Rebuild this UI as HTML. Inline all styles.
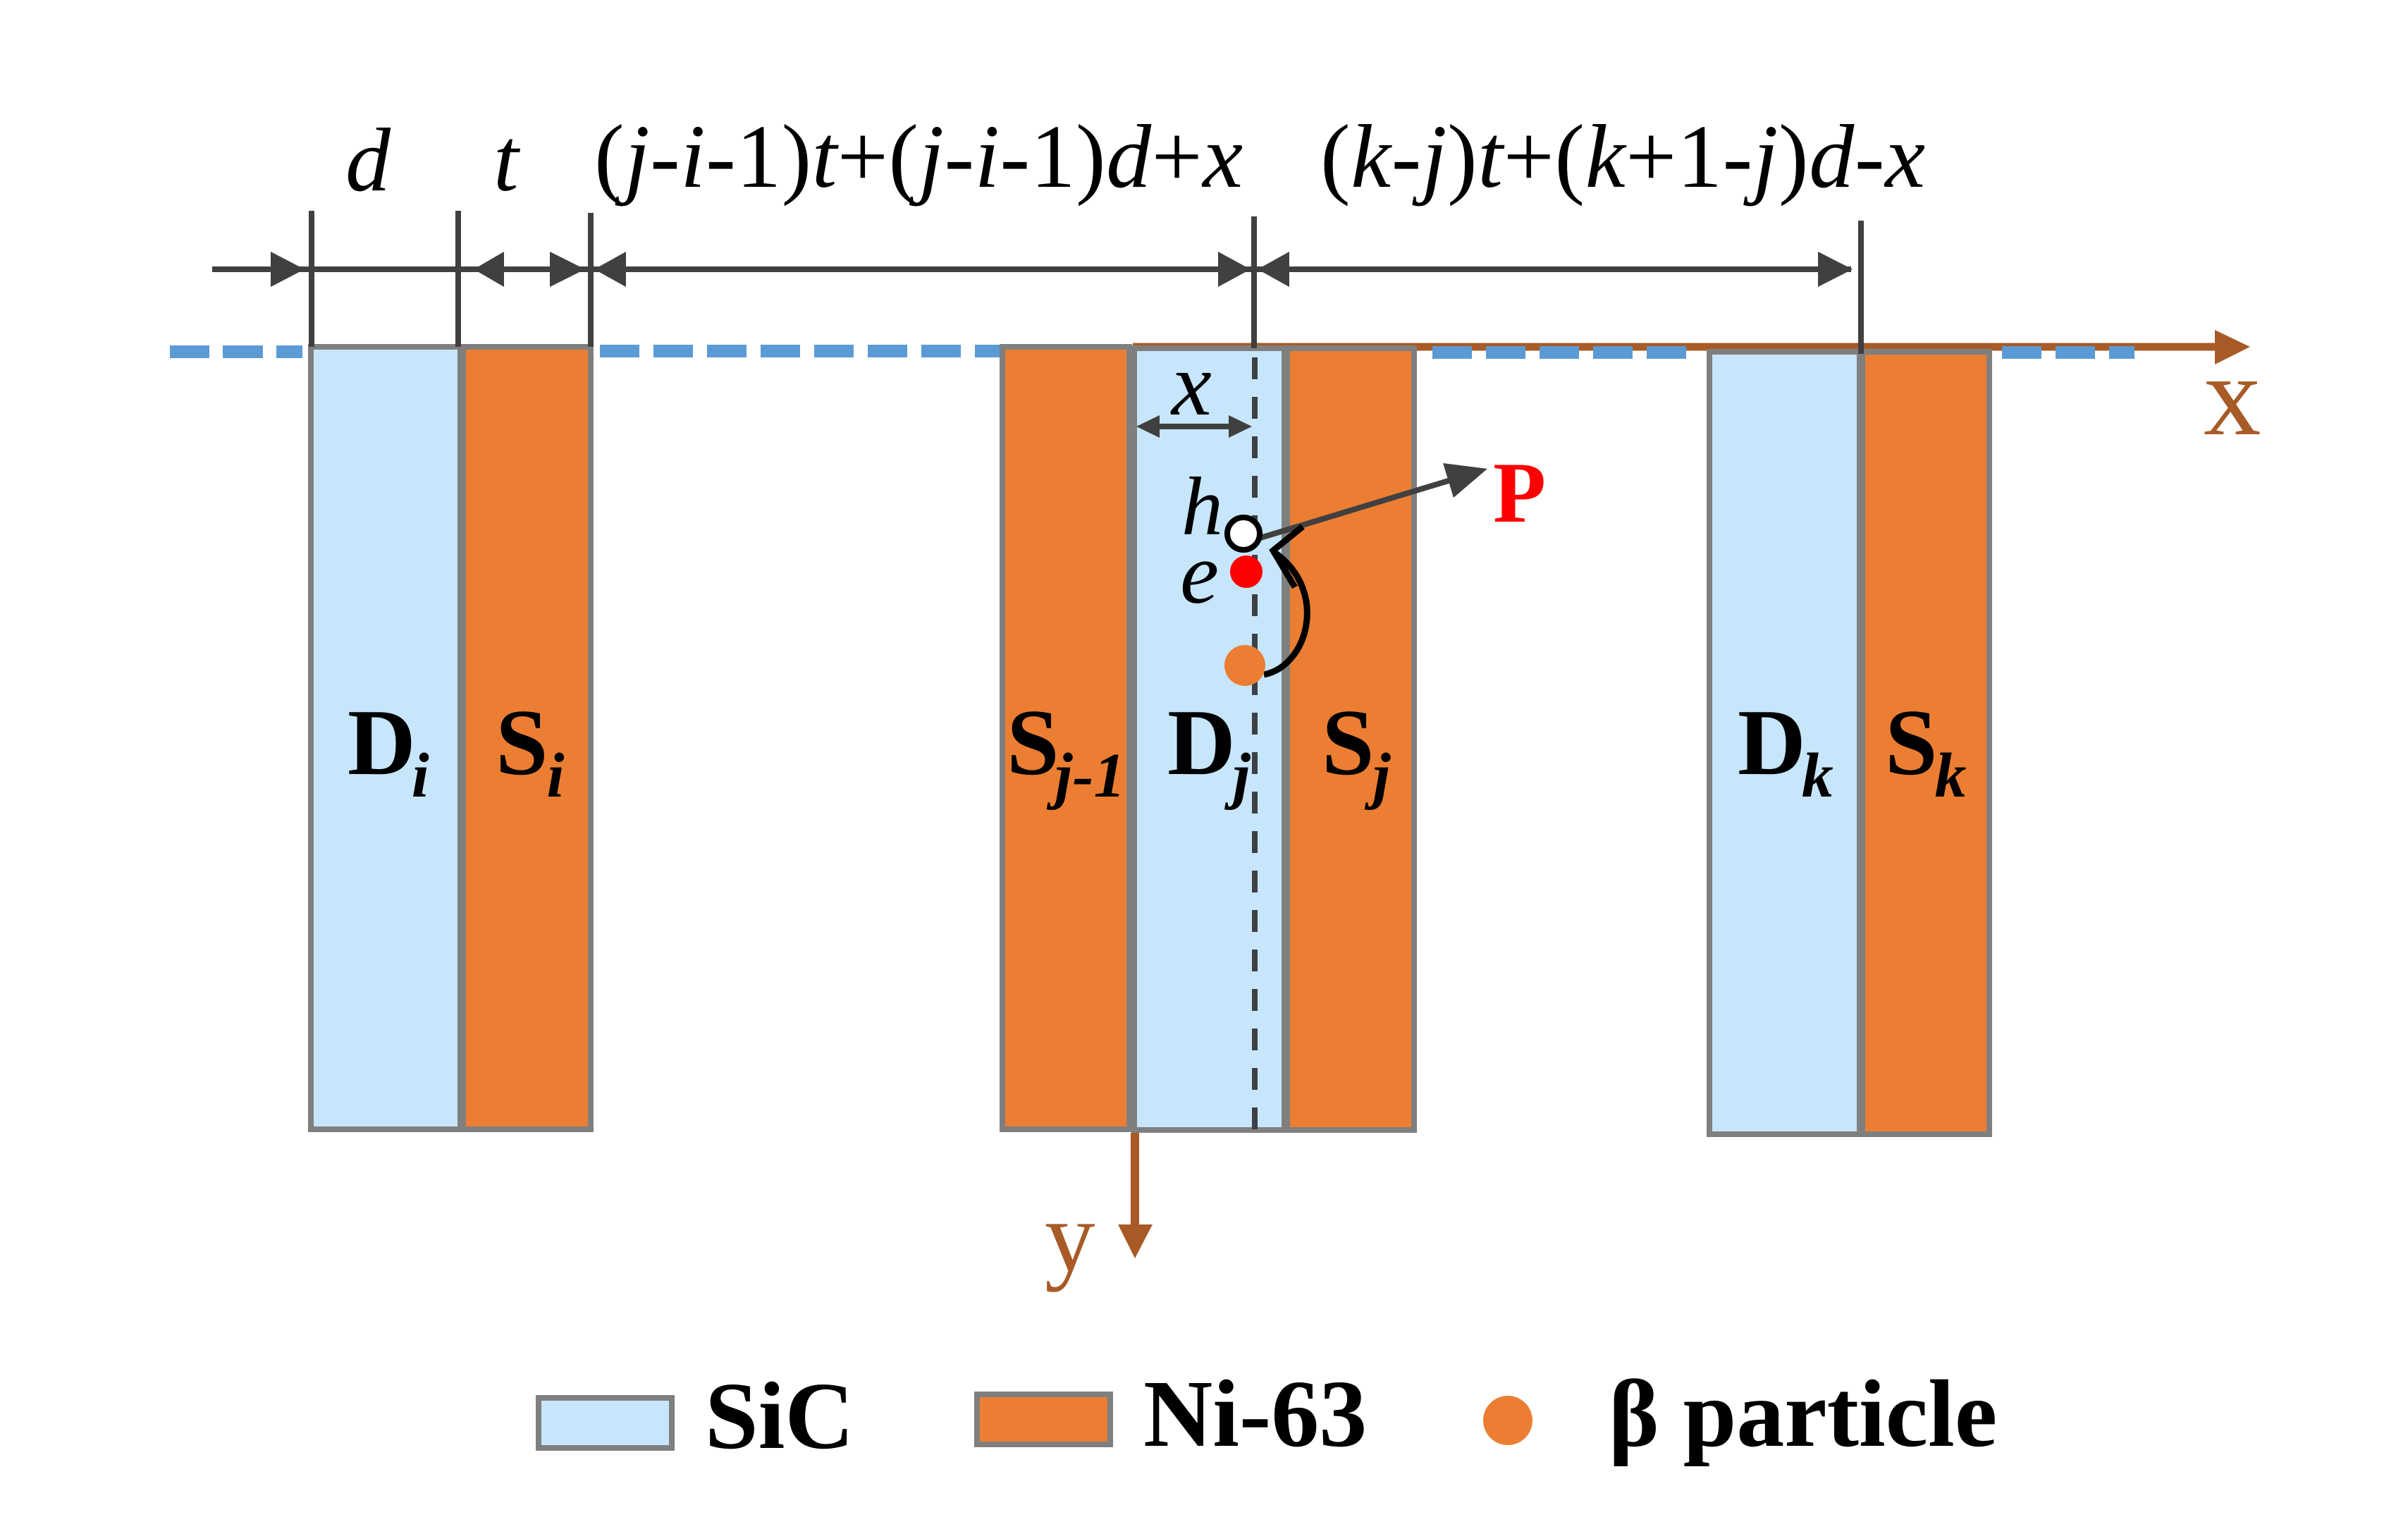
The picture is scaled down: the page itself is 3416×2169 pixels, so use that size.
<!DOCTYPE html>
<html>
<head>
<meta charset="utf-8">
<style>
  html, body { margin:0; padding:0; background:#ffffff; }
  body { width:3416px; height:2169px; overflow:hidden; }
  svg { display:block; }
  text { font-family: "Liberation Serif", "DejaVu Serif", serif; }
</style>
</head>
<body>
<svg width="3416" height="2169" viewBox="0 0 3416 2169" xmlns="http://www.w3.org/2000/svg">
  <rect x="0" y="0" width="3416" height="2169" fill="#ffffff"/>

  <!-- brown x axis -->
  <line x1="1607" y1="492" x2="3146" y2="492" stroke="#A85B26" stroke-width="11"/>
  <polygon points="3142,468 3192,492 3142,517" fill="#A85B26"/>

  <!-- blue dashed baseline -->
  <g fill="#5B9BD5">
    <rect x="241" y="490" width="56" height="18"/>
    <rect x="316" y="490" width="57" height="18"/>
    <rect x="392" y="490" width="37" height="18"/>

    <rect x="851" y="489" width="56" height="18"/>
    <rect x="927" y="489" width="56" height="18"/>
    <rect x="1003" y="489" width="56" height="18"/>
    <rect x="1079" y="489" width="56" height="18"/>
    <rect x="1155" y="489" width="56" height="18"/>
    <rect x="1231" y="489" width="56" height="18"/>
    <rect x="1307" y="489" width="56" height="18"/>
    <rect x="1383" y="489" width="36" height="18"/>

    <rect x="2032" y="491" width="56" height="18"/>
    <rect x="2108" y="491" width="56" height="18"/>
    <rect x="2184" y="491" width="56" height="18"/>
    <rect x="2260" y="491" width="56" height="18"/>
    <rect x="2336" y="491" width="56" height="18"/>

    <rect x="2840" y="491" width="56" height="18"/>
    <rect x="2916" y="491" width="56" height="18"/>
    <rect x="2992" y="491" width="36" height="18"/>
  </g>

  <!-- boxes -->
  <g stroke="#7F7F7F" stroke-width="8">
    <rect x="441" y="492" width="212" height="1110" fill="#C7E6FB"/>
    <rect x="657" y="492" width="181" height="1110" fill="#EB7E33"/>

    <rect x="1422" y="492" width="180" height="1110" fill="#EB7E33"/>
    <rect x="1609" y="494" width="213" height="1109" fill="#C7E6FB"/>
    <rect x="1826" y="494" width="180" height="1109" fill="#EB7E33"/>

    <rect x="2425" y="499" width="213" height="1110" fill="#C7E6FB"/>
    <rect x="2642" y="499" width="180" height="1110" fill="#EB7E33"/>
  </g>

  <!-- extension lines -->
  <g stroke="#404040" stroke-width="8">
    <line x1="442" y1="299" x2="442" y2="492"/>
    <line x1="650" y1="299" x2="650" y2="492"/>
    <line x1="838" y1="302" x2="838" y2="492"/>
    <line x1="1779" y1="307" x2="1779" y2="494"/>
    <line x1="2640" y1="313" x2="2640" y2="502"/>
  </g>
  <!-- dashed line inside Dj -->
  <line x1="1780" y1="507" x2="1780" y2="1602" stroke="#3C3F44" stroke-width="8" stroke-dasharray="31 25"/>

  <!-- dimension line -->
  <line x1="301" y1="382" x2="2626" y2="382" stroke="#404040" stroke-width="8"/>
  <g fill="#404040">
    <polygon points="384,357 432,382 384,407"/>
    <polygon points="715,357 672,382 715,407"/>
    <polygon points="780,357 830,382 780,407"/>
    <polygon points="888,357 843,382 888,407"/>
    <polygon points="1728,357 1774,382 1728,407"/>
    <polygon points="1829,357 1784,382 1829,407"/>
    <polygon points="2579,357 2628,382 2579,407"/>
  </g>

  <!-- top labels -->
  <text x="490" y="270" font-size="128" font-style="italic" fill="#000">d</text>
  <text x="700" y="270" font-size="128" font-style="italic" fill="#000">t</text>
  <text x="843" y="265" font-size="128" fill="#000" textLength="920" lengthAdjust="spacing">(<tspan font-style="italic">j</tspan>-<tspan font-style="italic">i</tspan>-1)<tspan font-style="italic">t</tspan>+(<tspan font-style="italic">j</tspan>-<tspan font-style="italic">i</tspan>-1)<tspan font-style="italic">d</tspan>+<tspan font-style="italic">x</tspan></text>
  <text x="1873" y="265" font-size="128" fill="#000" textLength="858" lengthAdjust="spacing">(<tspan font-style="italic">k</tspan>-<tspan font-style="italic">j</tspan>)<tspan font-style="italic">t</tspan>+(<tspan font-style="italic">k</tspan>+1-<tspan font-style="italic">j</tspan>)<tspan font-style="italic">d</tspan>-<tspan font-style="italic">x</tspan></text>

  <!-- x small dimension inside Dj -->
  <line x1="1640" y1="605" x2="1748" y2="605" stroke="#404040" stroke-width="8"/>
  <polygon points="1645,589 1612,605 1645,621" fill="#404040"/>
  <polygon points="1743,589 1776,605 1743,621" fill="#404040"/>
  <text x="1662" y="588" font-size="128" font-style="italic" fill="#000">x</text>

  <!-- h, e labels -->
  <text x="1676" y="758" font-size="118" font-style="italic" fill="#000">h</text>
  <text x="1674" y="855" font-size="124" font-style="italic" fill="#000">e</text>

  <!-- P arrow -->
  <line x1="1788" y1="763" x2="2058" y2="681" stroke="#404040" stroke-width="8"/>
  <polygon points="2110,665 2062,706 2047,657" fill="#404040"/>
  <text x="2118" y="740" font-size="123" font-weight="bold" fill="#FF0000">P</text>

  <!-- curved arrow -->
  <path d="M1793,957 C1855,945 1885,840 1810,785" fill="none" stroke="#000" stroke-width="9"/>
  <polyline points="1848,747 1806,781 1837,833" fill="none" stroke="#000" stroke-width="9" stroke-linejoin="miter"/>

  <!-- particles -->
  <circle cx="1764" cy="757" r="23" fill="#ffffff" stroke="#000" stroke-width="8"/>
  <circle cx="1768" cy="811" r="23" fill="#FF0000"/>
  <circle cx="1766" cy="944" r="29" fill="#EB7E33"/>

  <!-- box labels -->
  <g font-size="134" font-weight="bold" fill="#000">
    <text x="493" y="1098">D<tspan font-style="italic" font-size="90" dy="32" dx="-6">i</tspan></text>
    <text x="703" y="1098">S<tspan font-style="italic" font-size="90" dy="32" dx="-2">i</tspan></text>
    <text x="1428" y="1098">S<tspan font-style="italic" font-size="90" dy="32" dx="-6">j-1</tspan></text>
    <text x="1656" y="1098">D<tspan font-style="italic" font-size="90" dy="32" dx="-4">j</tspan></text>
    <text x="1875" y="1098">S<tspan font-style="italic" font-size="90" dy="32" dx="-2">j</tspan></text>
    <text x="2465" y="1098">D<tspan font-style="italic" font-size="90" dy="32" dx="-6">k</tspan></text>
    <text x="2674" y="1098">S<tspan font-style="italic" font-size="90" dy="32" dx="-4">k</tspan></text>
  </g>

  <!-- y axis -->
  <line x1="1610" y1="1607" x2="1610" y2="1740" stroke="#A85B26" stroke-width="12"/>
  <polygon points="1586,1737 1635,1737 1610,1785" fill="#A85B26"/>
  <text x="1482" y="1802" font-size="143" fill="#A85B26">y</text>

  <!-- x axis label -->
  <text x="3126" y="616" font-size="163" fill="#A85B26">x</text>

  <!-- legend -->
  <rect x="764" y="1983" width="189" height="71" fill="#C7E6FB" stroke="#7F7F7F" stroke-width="8"/>
  <text x="1000" y="2054" font-size="136" font-weight="bold" fill="#000">SiC</text>
  <rect x="1386" y="1978" width="189" height="71" fill="#EB7E33" stroke="#7F7F7F" stroke-width="8"/>
  <text x="1622" y="2051" font-size="136" font-weight="bold" fill="#000">Ni-63</text>
  <circle cx="2139" cy="2015" r="35" fill="#EB7E33"/>
  <text x="2282" y="2051" font-size="136" font-weight="bold" fill="#000">β particle</text>
</svg>
</body>
</html>
